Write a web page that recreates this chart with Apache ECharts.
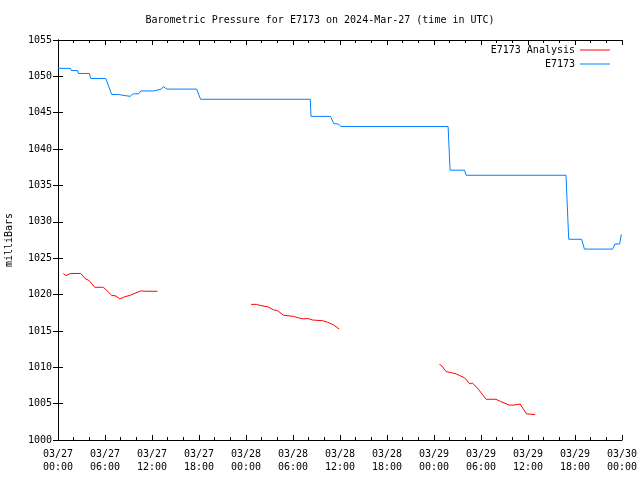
<!DOCTYPE html>
<html><head><meta charset="utf-8">
<script src="https://cdn.jsdelivr.net/npm/echarts@6/dist/echarts.min.js"></script>
<style>html,body{margin:0;padding:0;background:#fff}#c{width:640px;height:480px}</style>
</head><body><div id="c"></div>
<script>
var titleText = 'Barometric Pressure for E7173 on 2024-Mar-27 (time in UTC)';
var yName = 'milliBars';
var xTickLabels = ['03/27\n00:00','03/27\n06:00','03/27\n12:00','03/27\n18:00','03/28\n00:00','03/28\n06:00','03/28\n12:00','03/28\n18:00','03/29\n00:00','03/29\n06:00','03/29\n12:00','03/29\n18:00','03/30\n00:00'];
// hours since 03/27 00:00 UTC, pressure in mbar
var obsName = 'E7173';
var obsData = [[0,1051.1],[1.6,1051.1],[1.7,1050.8],[2.5,1050.8],[2.6,1050.4],[4.0,1050.4],[4.2,1049.7],[6.1,1049.7],[6.85,1047.5],[7.7,1047.5],[7.8,1047.25],[9.2,1047.25],[9.6,1047.6],[10.3,1047.6],[10.55,1048.0],[12.25,1048.0],[12.5,1048.25],[13.2,1048.25],[13.45,1048.6],[13.9,1048.25],[17.7,1048.25],[18.2,1046.85],[32.2,1046.85],[32.3,1044.5],[34.8,1044.5],[35.2,1043.5],[35.8,1043.45],[36.1,1043.1],[49.8,1043.1],[50.05,1037.1],[51.9,1037.1],[52.1,1036.4],[64.85,1036.4],[65.2,1027.6],[66.85,1027.6],[67.2,1026.25],[70.8,1026.25],[71.1,1026.95],[71.7,1026.95],[71.9,1028.2],[72,1028.2]];
var anaName = 'E7173 Analysis';
var anaData = [[0.68,1022.9],[1.0,1022.6],[1.62,1022.9],[2.9,1022.9],[3.45,1022.2],[4.0,1021.9],[4.7,1021.0],[5.8,1021.0],[6.85,1019.9],[7.4,1019.8],[7.9,1019.4],[8.55,1019.7],[9.2,1019.9],[10.55,1020.5],[11.2,1020.45],[12.7,1020.45],[null,null],
[24.65,1018.65],[25.35,1018.65],[25.8,1018.5],[26.85,1018.3],[27.5,1017.9],[28.0,1017.8],[28.8,1017.15],[30.05,1017.0],[30.7,1016.8],[31.3,1016.65],[31.9,1016.7],[32.5,1016.5],[33.8,1016.4],[34.4,1016.2],[35.15,1015.85],[35.9,1015.25],[null,null],
[48.7,1010.4],[49.0,1010.2],[49.55,1009.4],[50.25,1009.25],[50.8,1009.1],[51.3,1008.85],[51.9,1008.55],[52.6,1007.7],[52.9,1007.85],[53.65,1007.0],[54.65,1005.6],[55.9,1005.6],[56.5,1005.3],[57.6,1004.8],[58.2,1004.8],[58.35,1004.95],[59.0,1004.95],[59.8,1003.6],[60.9,1003.5]];

var font = 'DejaVu Sans Mono';
var chart = echarts.init(document.getElementById('c'));
var axLine = {show:true, lineStyle:{color:'#000', width:1}};
chart.setOption({
  animation:false,
  textStyle:{fontFamily:font},
  title:{text:titleText, left:'center', top:10, textStyle:{fontFamily:font, fontSize:10, fontWeight:'normal', color:'#000'}},
  legend:{orient:'vertical', right:25, top:40, align:'right', itemGap:4, itemWidth:30, itemHeight:1, icon:'rect',
    textStyle:{fontFamily:font, fontSize:10, color:'#000', padding:[0,0,0,0]}, data:[anaName, obsName]},
  grid:{left:58, right:18, top:40, bottom:40, outerBoundsMode:'none', containLabel:false},
  xAxis:[{type:'value', min:0, max:72, interval:6, axisLine:axLine,
    axisTick:{show:true, inside:true, length:5, lineStyle:{color:'#000'}},
    minorTick:{show:true, splitNumber:3, length:3, lineStyle:{color:'#000'}},
    splitLine:{show:false},
    axisLabel:{fontFamily:font, fontSize:10, color:'#000', margin:8, lineHeight:13,
      formatter:function(v){return xTickLabels[Math.round(v/6)];}}},
   {type:'value', position:'top', min:0, max:72, interval:6, axisLine:axLine,
    axisTick:{show:true, inside:true, length:5, lineStyle:{color:'#000'}},
    minorTick:{show:true, splitNumber:3, length:3, lineStyle:{color:'#000'}},
    splitLine:{show:false}, axisLabel:{show:false}}],
  yAxis:[{type:'value', min:1000, max:1055, interval:5, axisLine:axLine,
    axisTick:{show:true, inside:true, length:5, lineStyle:{color:'#000'}},
    splitLine:{show:false},
    name:yName, nameLocation:'middle', nameGap:44, nameRotate:90,
    nameTextStyle:{fontFamily:font, fontSize:10, color:'#000'},
    axisLabel:{fontFamily:font, fontSize:10, color:'#000', margin:6, formatter:function(v){return String(v);}}},
   {type:'value', position:'right', min:1000, max:1055, interval:5, axisLine:axLine,
    axisTick:{show:true, inside:true, length:5, lineStyle:{color:'#000'}},
    splitLine:{show:false}, axisLabel:{show:false}}],
  series:[
    {name:anaName, type:'line', data:anaData, showSymbol:false, connectNulls:false,
      lineStyle:{color:'#ff0000', width:1}, itemStyle:{color:'#ff0000'}},
    {name:obsName, type:'line', data:obsData, showSymbol:false,
      lineStyle:{color:'#0080ff', width:1}, itemStyle:{color:'#0080ff'}}
  ]
});
</script></body></html>
